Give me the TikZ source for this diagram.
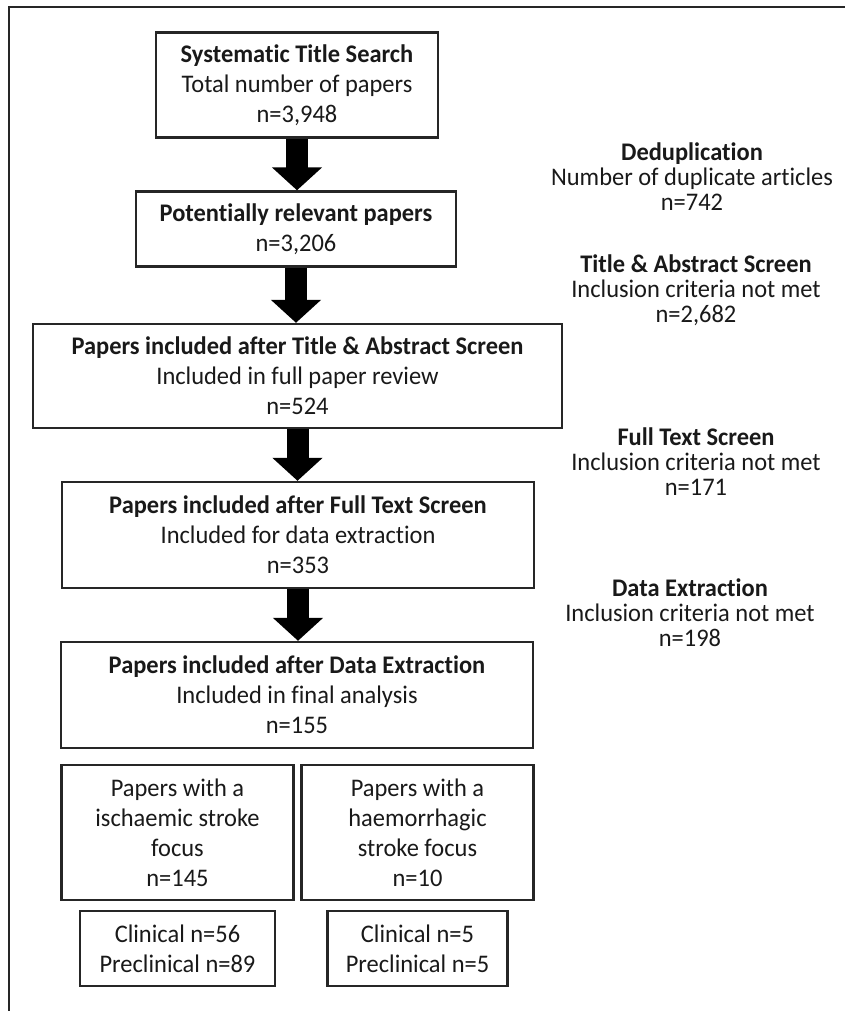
\documentclass[tikz,border=0pt]{standalone}
\usepackage{fontspec}
\setmainfont{Carlito}[Ligatures={NoCommon}, FakeStretch=0.965]
\usetikzlibrary{arrows.meta}
\begin{document}
\begin{tikzpicture}[x=0.75pt,y=-0.75pt,
  box/.style={draw=black!85, line width=1.8pt, align=center, inner sep=0pt, text=black!90,
    font=\fontsize{19pt}{22.5pt}\selectfont},
  side/.style={align=center, inner sep=0pt, text=black!90, font=\fontsize{19pt}{18.75pt}\selectfont},
  bigarrow/.style={line width=16.5pt, draw=black, -{Triangle[length=17.25pt 0 0,width=36.75pt 0 0]}}]
\useasboundingbox (0,0) rectangle (845,1011);
\draw[line width=1.6pt, black!85] (9,1011) -- (9,7) -- (845,7);

\node[box, minimum width=211.5pt, minimum height=78.75pt] (b1) at (297,85)
  {\textbf{Systematic Title Search}\\Total number of papers\\n=3,948};
\node[box, minimum width=240pt, minimum height=56.25pt] (b2) at (296,229)
  {\textbf{Potentially relevant papers}\\n=3,206};
\node[box, minimum width=396.75pt, minimum height=78pt] (b3) at (297.5,376)
  {\textbf{Papers included after Title \& Abstract Screen}\\Included in full paper review\\n=524};
\node[box, minimum width=354pt, minimum height=79.5pt] (b4) at (298,535)
  {\textbf{Papers included after Full Text Screen}\\Included for data extraction\\n=353};
\node[box, minimum width=354pt, minimum height=79.5pt] (b5) at (297,695)
  {\textbf{Papers included after Data Extraction}\\Included in final analysis\\n=155};
\node[box, minimum width=174pt, minimum height=101.25pt] (b6a) at (177.5,832.5)
  {Papers with a\\ischaemic stroke\\focus\\n=145};
\node[box, minimum width=174pt, minimum height=101.25pt] (b6b) at (417.5,832.5)
  {Papers with a\\haemorrhagic\\stroke focus\\n=10};
\node[box, minimum width=146.25pt, minimum height=56.25pt] (b7a) at (177.5,948.5)
  {Clinical n=56\\Preclinical n=89};
\node[box, minimum width=135pt, minimum height=56.25pt] (b7b) at (417.5,948.5)
  {Clinical n=5\\Preclinical n=5};

\draw[bigarrow] (b1.south) -- (b1.south |- b2.north);
\draw[bigarrow] (b2.south) -- (b2.south |- b3.north);
\draw[bigarrow] (b3.south) -- (b3.south |- b4.north);
\draw[bigarrow] (b4.south) -- (b4.south |- b5.north);

\node[side] (r1) at (692,177)
  {\textbf{Deduplication}\\Number of duplicate articles\\n=742};
\node[side] (r2) at (696,290)
  {\textbf{Title \& Abstract Screen}\\Inclusion criteria not met\\n=2,682};
\node[side] (r3) at (696,462)
  {\textbf{Full Text Screen}\\Inclusion criteria not met\\n=171};
\node[side] (r4) at (690,613)
  {\textbf{Data Extraction}\\Inclusion criteria not met\\n=198};
\end{tikzpicture}
\end{document}
